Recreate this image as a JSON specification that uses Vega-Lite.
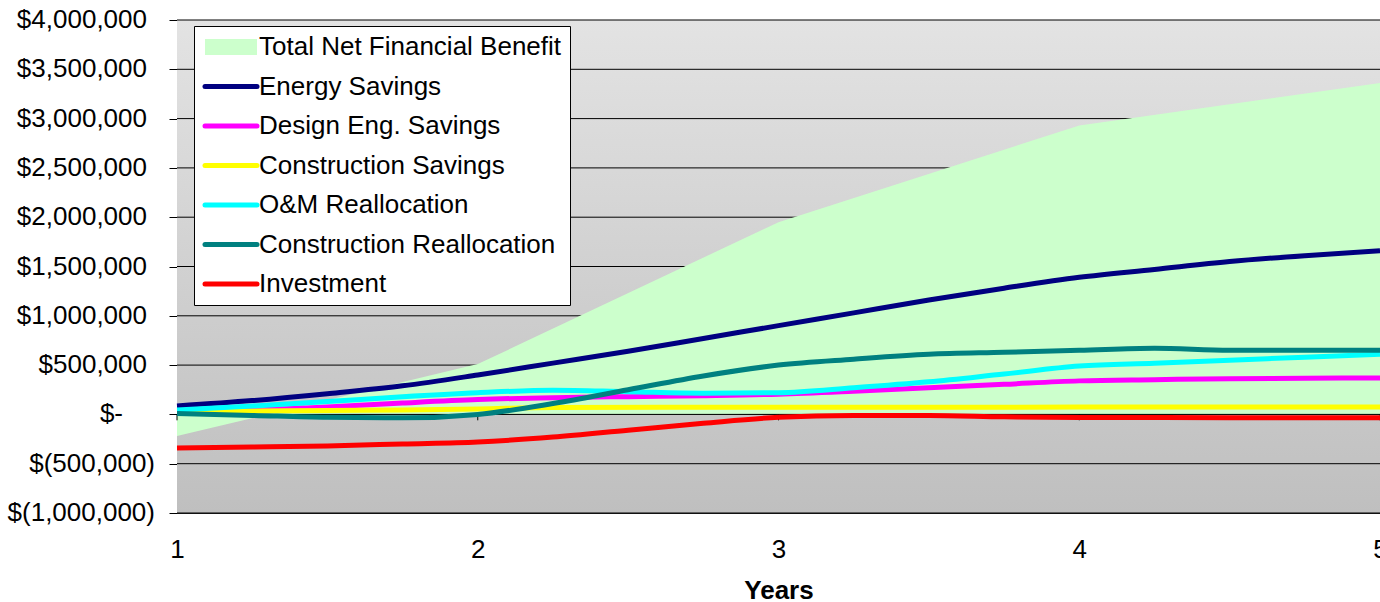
{
  "$schema": "https://vega.github.io/schema/vega-lite/v6.json",
  "width": 1203,
  "height": 493,
  "autosize": "none",
  "padding": {"left": 177, "top": 20, "right": 0, "bottom": 89},
  "background": "white",
  "config": {"view": {"stroke": null}, "font": "Liberation Sans"},
  "datasets": {
    "series": [
      {"year": 1, "series": "Total Net Financial Benefit", "value": -220000},
      {"year": 2, "series": "Total Net Financial Benefit", "value": 510000},
      {"year": 3, "series": "Total Net Financial Benefit", "value": 1950000},
      {"year": 4, "series": "Total Net Financial Benefit", "value": 2930000},
      {"year": 5, "series": "Total Net Financial Benefit", "value": 3360000},

      {"year": 1, "series": "Energy Savings", "value": 85000},
      {"year": 1.25, "series": "Energy Savings", "value": 140000},
      {"year": 1.5, "series": "Energy Savings", "value": 210000},
      {"year": 1.75, "series": "Energy Savings", "value": 290000},
      {"year": 2, "series": "Energy Savings", "value": 400000},
      {"year": 2.25, "series": "Energy Savings", "value": 520000},
      {"year": 2.5, "series": "Energy Savings", "value": 640000},
      {"year": 2.75, "series": "Energy Savings", "value": 770000},
      {"year": 3, "series": "Energy Savings", "value": 900000},
      {"year": 3.25, "series": "Energy Savings", "value": 1030000},
      {"year": 3.5, "series": "Energy Savings", "value": 1160000},
      {"year": 3.75, "series": "Energy Savings", "value": 1280000},
      {"year": 4, "series": "Energy Savings", "value": 1390000},
      {"year": 4.25, "series": "Energy Savings", "value": 1470000},
      {"year": 4.5, "series": "Energy Savings", "value": 1550000},
      {"year": 4.75, "series": "Energy Savings", "value": 1610000},
      {"year": 5, "series": "Energy Savings", "value": 1660000},

      {"year": 1, "series": "Design Eng. Savings", "value": 30000},
      {"year": 1.25, "series": "Design Eng. Savings", "value": 45000},
      {"year": 1.5, "series": "Design Eng. Savings", "value": 75000},
      {"year": 1.75, "series": "Design Eng. Savings", "value": 115000},
      {"year": 2, "series": "Design Eng. Savings", "value": 150000},
      {"year": 2.25, "series": "Design Eng. Savings", "value": 170000},
      {"year": 2.5, "series": "Design Eng. Savings", "value": 180000},
      {"year": 2.75, "series": "Design Eng. Savings", "value": 190000},
      {"year": 3, "series": "Design Eng. Savings", "value": 205000},
      {"year": 3.25, "series": "Design Eng. Savings", "value": 235000},
      {"year": 3.5, "series": "Design Eng. Savings", "value": 270000},
      {"year": 3.75, "series": "Design Eng. Savings", "value": 305000},
      {"year": 4, "series": "Design Eng. Savings", "value": 340000},
      {"year": 4.25, "series": "Design Eng. Savings", "value": 352000},
      {"year": 4.5, "series": "Design Eng. Savings", "value": 362000},
      {"year": 4.75, "series": "Design Eng. Savings", "value": 366000},
      {"year": 5, "series": "Design Eng. Savings", "value": 370000},

      {"year": 1, "series": "Construction Savings", "value": 30000},
      {"year": 1.5, "series": "Construction Savings", "value": 40000},
      {"year": 1.75, "series": "Construction Savings", "value": 45000},
      {"year": 2, "series": "Construction Savings", "value": 55000},
      {"year": 2.25, "series": "Construction Savings", "value": 70000},
      {"year": 3, "series": "Construction Savings", "value": 72000},
      {"year": 4, "series": "Construction Savings", "value": 74000},
      {"year": 5, "series": "Construction Savings", "value": 75000},

      {"year": 1, "series": "O&M Reallocation", "value": 45000},
      {"year": 1.25, "series": "O&M Reallocation", "value": 85000},
      {"year": 1.5, "series": "O&M Reallocation", "value": 130000},
      {"year": 1.75, "series": "O&M Reallocation", "value": 180000},
      {"year": 2, "series": "O&M Reallocation", "value": 220000},
      {"year": 2.25, "series": "O&M Reallocation", "value": 245000},
      {"year": 2.5, "series": "O&M Reallocation", "value": 230000},
      {"year": 2.75, "series": "O&M Reallocation", "value": 215000},
      {"year": 3, "series": "O&M Reallocation", "value": 220000},
      {"year": 3.25, "series": "O&M Reallocation", "value": 270000},
      {"year": 3.5, "series": "O&M Reallocation", "value": 330000},
      {"year": 3.75, "series": "O&M Reallocation", "value": 410000},
      {"year": 4, "series": "O&M Reallocation", "value": 490000},
      {"year": 4.25, "series": "O&M Reallocation", "value": 520000},
      {"year": 4.5, "series": "O&M Reallocation", "value": 550000},
      {"year": 4.75, "series": "O&M Reallocation", "value": 580000},
      {"year": 5, "series": "O&M Reallocation", "value": 610000},

      {"year": 1, "series": "Construction Reallocation", "value": 10000},
      {"year": 1.25, "series": "Construction Reallocation", "value": -10000},
      {"year": 1.5, "series": "Construction Reallocation", "value": -30000},
      {"year": 1.75, "series": "Construction Reallocation", "value": -35000},
      {"year": 2, "series": "Construction Reallocation", "value": 0},
      {"year": 2.25, "series": "Construction Reallocation", "value": 110000},
      {"year": 2.5, "series": "Construction Reallocation", "value": 250000},
      {"year": 2.75, "series": "Construction Reallocation", "value": 390000},
      {"year": 3, "series": "Construction Reallocation", "value": 500000},
      {"year": 3.25, "series": "Construction Reallocation", "value": 560000},
      {"year": 3.5, "series": "Construction Reallocation", "value": 610000},
      {"year": 3.75, "series": "Construction Reallocation", "value": 630000},
      {"year": 4, "series": "Construction Reallocation", "value": 650000},
      {"year": 4.25, "series": "Construction Reallocation", "value": 672000},
      {"year": 4.5, "series": "Construction Reallocation", "value": 650000},
      {"year": 4.75, "series": "Construction Reallocation", "value": 650000},
      {"year": 5, "series": "Construction Reallocation", "value": 650000},

      {"year": 1, "series": "Investment", "value": -340000},
      {"year": 1.25, "series": "Investment", "value": -330000},
      {"year": 1.5, "series": "Investment", "value": -320000},
      {"year": 1.75, "series": "Investment", "value": -300000},
      {"year": 2, "series": "Investment", "value": -280000},
      {"year": 2.25, "series": "Investment", "value": -230000},
      {"year": 2.5, "series": "Investment", "value": -160000},
      {"year": 2.75, "series": "Investment", "value": -90000},
      {"year": 3, "series": "Investment", "value": -30000},
      {"year": 3.25, "series": "Investment", "value": -12000},
      {"year": 3.5, "series": "Investment", "value": -12000},
      {"year": 3.75, "series": "Investment", "value": -25000},
      {"year": 4, "series": "Investment", "value": -32000},
      {"year": 4.5, "series": "Investment", "value": -33000},
      {"year": 5, "series": "Investment", "value": -35000}
    ],
    "grid": [
      {"v": -1000000, "label": "$(1,000,000)", "kind": "neg"},
      {"v": -500000, "label": "$(500,000)", "kind": "neg"},
      {"v": 0, "label": "$-", "kind": "zero"},
      {"v": 500000, "label": "$500,000", "kind": "pos"},
      {"v": 1000000, "label": "$1,000,000", "kind": "pos"},
      {"v": 1500000, "label": "$1,500,000", "kind": "pos"},
      {"v": 2000000, "label": "$2,000,000", "kind": "pos"},
      {"v": 2500000, "label": "$2,500,000", "kind": "pos"},
      {"v": 3000000, "label": "$3,000,000", "kind": "pos"},
      {"v": 3500000, "label": "$3,500,000", "kind": "pos"},
      {"v": 4000000, "label": "$4,000,000", "kind": "pos"}
    ],
    "years": [{"year": 1}, {"year": 2}, {"year": 3}, {"year": 4}, {"year": 5}]
  },
  "layer": [
    {
      "data": {"values": [{}]},
      "mark": {
        "type": "rect",
        "fill": {
          "gradient": "linear", "x1": 0, "y1": 0, "x2": 0, "y2": 1,
          "stops": [{"offset": 0, "color": "#e3e3e3"}, {"offset": 1, "color": "#bfbfbf"}]
        }
      },
      "encoding": {
        "x": {
          "datum": 1, "type": "quantitative", "title": "Years",
          "scale": {"domain": [1, 5], "nice": false, "zero": false},
          "axis": {
            "title": "Years", "values": [1, 2, 3, 4, 5], "format": "d",
            "labelFlush": false, "labelOverlap": false,
            "labelFont": "Liberation Sans", "labelFontSize": 26, "labelColor": "black",
            "labelPadding": 23, "ticks": false, "tickSize": 0, "grid": false,
            "domain": true, "domainColor": "#222222", "domainWidth": 1,
            "titleFont": "Liberation Sans", "titleFontSize": 26, "titleFontWeight": "bold",
            "titleColor": "black", "titlePadding": 15
          }
        },
        "x2": {"datum": 5},
        "y": {
          "datum": 4000000, "type": "quantitative", "title": null,
          "scale": {"domain": [-1000000, 4000000], "nice": false, "zero": false},
          "axis": {
            "title": null,
            "values": [-1000000, -500000, 0, 500000, 1000000, 1500000, 2000000, 2500000, 3000000, 3500000, 4000000],
            "labels": false, "tickSize": 8, "tickColor": "black",
            "domainColor": "black", "grid": false
          }
        },
        "y2": {"datum": -1000000}
      }
    },
    {
      "data": {"name": "grid"},
      "mark": {"type": "rule", "color": "black", "strokeWidth": 1},
      "encoding": {"y": {"field": "v", "type": "quantitative", "title": null}}
    },
    {
      "data": {"name": "grid"},
      "transform": [{"filter": "datum.kind === 'neg'"}],
      "mark": {"type": "text", "align": "right", "baseline": "middle", "dx": -22, "font": "Liberation Sans", "fontSize": 26, "color": "black"},
      "encoding": {
        "x": {"datum": 1, "type": "quantitative", "title": "Years"},
        "y": {"field": "v", "type": "quantitative", "title": null},
        "text": {"field": "label"}
      }
    },
    {
      "data": {"name": "grid"},
      "transform": [{"filter": "datum.kind === 'pos'"}],
      "mark": {"type": "text", "align": "right", "baseline": "middle", "dx": -30, "font": "Liberation Sans", "fontSize": 26, "color": "black"},
      "encoding": {
        "x": {"datum": 1, "type": "quantitative", "title": "Years"},
        "y": {"field": "v", "type": "quantitative", "title": null},
        "text": {"field": "label"}
      }
    },
    {
      "data": {"name": "grid"},
      "transform": [{"filter": "datum.kind === 'zero'"}],
      "mark": {"type": "text", "align": "right", "baseline": "middle", "dx": -54, "font": "Liberation Sans", "fontSize": 26, "color": "black"},
      "encoding": {
        "x": {"datum": 1, "type": "quantitative", "title": "Years"},
        "y": {"field": "v", "type": "quantitative", "title": null},
        "text": {"field": "label"}
      }
    },
    {
      "data": {"name": "series"},
      "transform": [{"filter": "datum.series === 'Total Net Financial Benefit'"}],
      "mark": {"type": "area", "opacity": 1, "interpolate": "linear"},
      "encoding": {
        "x": {"field": "year", "type": "quantitative", "title": "Years"},
        "y": {"field": "value", "type": "quantitative", "title": null},
        "y2": {"datum": 0},
        "color": {
          "field": "series", "type": "nominal",
          "scale": {
            "domain": ["Total Net Financial Benefit", "Energy Savings", "Design Eng. Savings", "Construction Savings", "O&M Reallocation", "Construction Reallocation", "Investment"],
            "range": ["#ccffcc", "#000080", "#ff00ff", "#ffff00", "#00ffff", "#008080", "#ff0000"]
          }
        }
      }
    },
    {
      "data": {"values": [{}]},
      "mark": {"type": "rule", "color": "black", "strokeWidth": 1},
      "encoding": {"y": {"datum": 0, "type": "quantitative", "title": null}}
    },
    {
      "data": {"name": "years"},
      "mark": {"type": "rule", "color": "black", "strokeWidth": 1},
      "encoding": {
        "x": {"field": "year", "type": "quantitative", "title": "Years"},
        "y": {"datum": 0, "type": "quantitative", "title": null},
        "y2": {"datum": -60000}
      }
    },
    {
      "data": {"name": "series"},
      "transform": [{"filter": "datum.series !== 'Total Net Financial Benefit'"}],
      "mark": {"type": "line", "strokeWidth": 5, "interpolate": "monotone"},
      "encoding": {
        "x": {"field": "year", "type": "quantitative", "title": "Years"},
        "y": {"field": "value", "type": "quantitative", "title": null},
        "color": {
          "field": "series", "type": "nominal",
          "scale": {
            "domain": ["Total Net Financial Benefit", "Energy Savings", "Design Eng. Savings", "Construction Savings", "O&M Reallocation", "Construction Reallocation", "Investment"],
            "range": ["#ccffcc", "#000080", "#ff00ff", "#ffff00", "#00ffff", "#008080", "#ff0000"]
          },
          "legend": {
            "title": null, "orient": "none", "legendX": 17, "legendY": 6, "direction": "vertical",
            "fillColor": "white", "strokeColor": "black", "padding": 8,
            "labelFont": "Liberation Sans", "labelFontSize": 26, "labelColor": "black", "labelLimit": 0,
            "symbolSize": 400, "symbolOffset": 16, "labelOffset": 15, "rowPadding": 13.5,
            "symbolStrokeWidth": 5,
            "encode": {
              "symbols": {
                "update": {
                  "shape": {"signal": "datum.value === 'Total Net Financial Benefit' ? 'M-2.6,-0.8H2.6V0.8H-2.6Z' : 'M-2.6,0H2.6'"},
                  "fill": {"signal": "datum.value === 'Total Net Financial Benefit' ? '#ccffcc' : 'transparent'"},
                  "stroke": {"signal": "datum.value === 'Total Net Financial Benefit' ? 'transparent' : scale('color', datum.value)"},
                  "strokeWidth": {"signal": "datum.value === 'Total Net Financial Benefit' ? 0 : 5"},
                  "strokeCap": {"value": "round"},
                  "size": {"value": 400},
                  "opacity": {"value": 1}
                }
              }
            }
          }
        }
      }
    }
  ]
}
